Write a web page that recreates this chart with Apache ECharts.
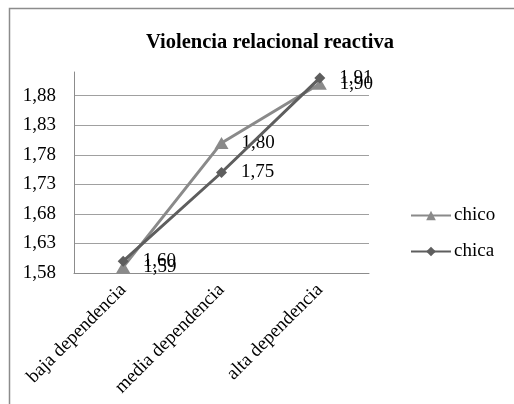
<!DOCTYPE html>
<html>
<head>
<meta charset="utf-8">
<script src="https://cdn.jsdelivr.net/npm/echarts@6/dist/echarts.min.js"></script>
<style>
  html, body { margin: 0; padding: 0; background: #fff; }
  #main { width: 514px; height: 404px; }
</style>
</head>
<body>
<div id="main"></div>
<script>
var chartDom = document.getElementById('main');
var myChart = echarts.init(chartDom);

// data
const categories = ['baja dependencia', 'media dependencia', 'alta dependencia'];
const chico = [1.59, 1.80, 1.90];
const chica = [1.60, 1.75, 1.91];

const serifFont = '"Liberation Serif", "DejaVu Serif", serif';

// value label next to each point, comma as decimal separator
function labelFmt(p) {
    return p.value.toFixed(2).replace('.', ',');
}

var option = {
    animation: false,
    title: {
        text: 'Violencia relacional reactiva',
        left: 265,
        textAlign: 'center',
        top: 27,
        textStyle: { fontFamily: serifFont, fontWeight: 'bold', fontSize: 20.5, color: '#000' }
    },
    legend: {
        orient: 'vertical',
        left: 405,
        top: 201,
        itemGap: 17,
        itemWidth: 40,
        itemHeight: 12,
        textStyle: { fontFamily: serifFont, fontSize: 19, color: '#000', padding: [0, 0, 0, -2] },
        data: ['chico', 'chica']
    },
    grid: { left: 74, right: 145, top: 72, bottom: 131 },
    xAxis: {
        type: 'category',
        data: categories,
        boundaryGap: true,
        axisLine: { lineStyle: { color: '#8c8c8c', width: 1 } },
        axisTick: { show: false },
        axisLabel: {
            rotate: 45,
            margin: 14,
            fontFamily: serifFont,
            fontSize: 19,
            color: '#000'
        }
    },
    yAxis: {
        type: 'value',
        min: 1.58,
        max: 1.92,
        interval: 0.05,
        axisLine: { show: true, lineStyle: { color: '#8c8c8c', width: 1 } },
        axisTick: { show: false },
        splitLine: { showMaxLine: false, lineStyle: { color: '#a0a0a0', width: 1 } },
        axisLabel: {
            margin: 18,
            showMaxLabel: false,
            fontFamily: serifFont,
            fontSize: 19,
            color: '#000',
            formatter: function (v) { return v.toFixed(2).replace('.', ','); }
        }
    },
    series: [
        {
            name: 'chico',
            type: 'line',
            data: chico,
            symbol: 'triangle',
            symbolSize: [14, 12],
            lineStyle: { color: '#8a8a8a', width: 3 },
            itemStyle: { color: '#8a8a8a' },
            label: {
                show: true,
                position: 'right',
                distance: 13,
                fontFamily: serifFont,
                fontSize: 19,
                color: '#000',
                formatter: labelFmt
            },
            z: 2
        },
        {
            name: 'chica',
            type: 'line',
            data: chica,
            symbol: 'diamond',
            symbolSize: 11,
            lineStyle: { color: '#5e5e5e', width: 3 },
            itemStyle: { color: '#5e5e5e' },
            label: {
                show: true,
                position: 'right',
                distance: 14,
                fontFamily: serifFont,
                fontSize: 19,
                color: '#000',
                formatter: labelFmt
            },
            z: 3
        }
    ],
    graphic: {
        elements: [
            {
                // outer chart border (only top and left visible in the crop)
                type: 'rect',
                left: 7,
                top: 6,
                shape: { width: 520, height: 410 },
                style: { fill: 'none', stroke: '#8c8c8c', lineWidth: 1.5 },
                silent: true
            }
        ]
    }
};

myChart.setOption(option);
</script>
</body>
</html>
